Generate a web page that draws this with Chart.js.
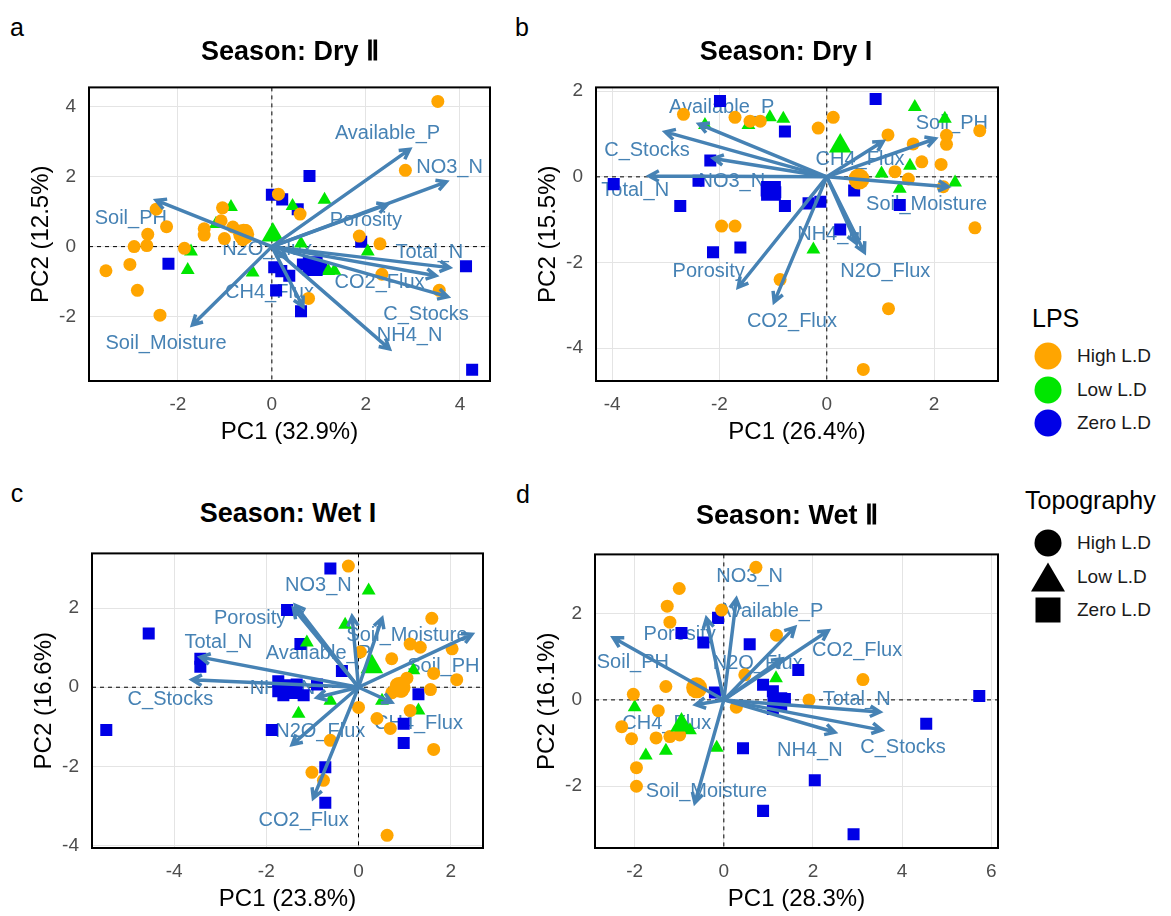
<!DOCTYPE html>
<html>
<head>
<meta charset="utf-8">
<title>PCA biplots by season</title>
<script src="https://cdn.jsdelivr.net/npm/chart.js@4.4.1/dist/chart.umd.min.js"></script>
<style>
  body { margin: 0; background: #fff; font-family: "Liberation Sans", Arial, sans-serif; }
  #wrap { position: relative; width: 1171px; height: 916px; overflow: hidden; }
  #wrap canvas { position: absolute; }
  .title { position: absolute; transform: translate(-50%, -50%); font-weight: bold; font-size: 27px; white-space: nowrap; }
  .tag { position: absolute; transform: translate(-50%, -50%); font-size: 25px; }
  .leg-title { position: absolute; transform: translateY(-50%); font-size: 25px; }
  .leg-text { position: absolute; transform: translateY(-50%); font-size: 19px; color: #1a1a1a; }
  .sw { position: absolute; transform: translate(-50%, -50%); }
</style>
</head>
<body>
<div id="wrap"></div>
<script>
// variables (arrows), same order in every panel
const varNames = ['Available_P', 'NO3_N', 'Porosity', 'Total_N', 'CO2_Flux', 'C_Stocks', 'NH4_N', 'CH4_Flux', 'N2O_Flux', 'Soil_PH', 'Soil_Moisture'];
const lpsLevels = ['High L.D', 'Low L.D', 'Zero L.D'];
const topoLevels = ['High L.D', 'Low L.D', 'Zero L.D'];

// ---- a: Dry II ----
const aXTicks = [-2, 0, 2, 4];
const aYTicks = [-2, 0, 2, 4];
const aXRange = [-3.89, 4.64];
const aYRange = [-3.84, 4.55];
const aHighX = [-2.46, -2.24, -2.64, -2.93, -2.66, -3.02, -3.53, -2.86, -2.38, -1.86, -1.05, -1.44, -1.44, -1.01, -0.83, -0.55, -0.62, -1.08, 0.14, 3.53, 2.84, 0.6, 1.86, 2.3, 2.34, 3.56, 0.78];
const aHighY = [1.07, 0.57, 0.35, 0, 0.03, -0.51, -0.69, -1.25, -1.96, -0.05, 1.11, 0.51, 0.33, 0.23, 0.56, 0.46, 0.2, 0.74, 1.5, 4.15, 2.18, 0.93, 0.3, 0.08, -0.79, -1.25, -1.48];
const aLowX = [-0.87, -1.72, -1.79, -0.41, -1.19, 1.12, 0.44, 0.62, 2.04, 1.33, 1.2];
const aLowY = [1.13, -0.14, -0.67, -0.74, 0.65, 1.34, 1.16, 0.09, -0.14, -0.69, -0.7];
const aZeroX = [-2.2, 0, 0.22, 0.05, 0.09, 0.8, 0.55, 1.9, 4.13, 0.66, 1.05, 0.37, 0.62, 4.26, 0.2];
const aZeroY = [-0.49, 1.48, 1.35, -0.59, -1.25, 2.02, 1.07, 0.14, -0.56, -0.51, -0.6, -0.83, -1.85, -3.52, -0.7];
const aMeanX = [-0.6, 0.02, 0.87];
const aMeanY = [0.35, 0.33, -0.56];
const aArrowX = [2.93, 3.71, 2.45, 3.78, 3.49, 3.74, 2.5, 0.66, 0.3, -2.46, -1.69];
const aArrowY = [2.78, 1.85, 1.2, -0.6, -0.83, -1.43, -2.92, -1.71, -0.3, 1.32, -2.24];
const aLabelX = [2.46, 3.78, 2.0, 3.35, 2.29, 3.28, 2.93, -0.05, -0.1, -3.0, -2.25];
const aLabelY = [3.22, 2.27, 0.74, -0.18, -1.02, -1.94, -2.54, -1.31, -0.09, 0.79, -2.78];

// ---- b: Dry I ----
const bXTicks = [-4, -2, 0, 2];
const bYTicks = [-4, -2, 0, 2];
const bXRange = [-4.3, 3.19];
const bYRange = [-4.77, 2.09];
const bHighX = [-2.67, -1.71, -1.43, -1.24, -1.96, -1.71, -0.87, 0.12, -0.16, 1.14, 1.61, 2.23, 2.23, 2.85, 1.77, 2.13, 1.27, 1.52, 2.76, 1.15, 0.68, 2.17];
const bHighY = [1.46, 1.39, 1.3, 1.3, -1.15, -1.15, -2.4, 1.39, 1.14, 0.98, 0.77, 0.97, 0.76, 1.08, 0.35, 0.29, 0.12, -0.05, -1.19, -3.08, -4.5, -0.23];
const bLowX = [-2.27, -1.46, -1.06, -0.81, 1.64, 2.2, 1.55, 1.02, 1.36, 2.39, -0.25];
const bLowY = [1.21, 1.21, 1.39, 1.36, 1.63, 1.36, 0.26, 0.08, -0.28, -0.13, -1.7];
const bZeroX = [-1.99, -0.78, -2.17, -3.97, -2.39, -2.73, -1.12, -0.96, -0.78, -2.12, -1.61, 0.91, 0.51, 1.36, 0.25, -0.34, -0.12];
const bZeroY = [1.77, 1.06, 0.38, -0.17, -0.09, -0.68, -0.32, -0.36, -0.68, -1.76, -1.65, 1.82, -0.32, -0.66, -1.23, -0.62, -0.58];
const bMeanX = [0.6, 0.25, -1.04];
const bMeanY = [-0.05, 0.72, -0.33];
const bArrowX = [-2.38, -2.11, -1.65, -3.31, -0.98, -3.01, 0.55, 1.05, 0.7, 2.02, 2.26];
const bArrowY = [1.23, 0.43, -2.58, 0.02, -2.92, 1.05, -1.55, 0.83, -1.76, 0.89, -0.23];
const bLabelX = [-1.96, -1.77, -2.2, -3.57, -0.65, -3.35, 0.06, 0.62, 1.09, 2.33, 1.86];
const bLabelY = [1.61, -0.1, -2.2, -0.33, -3.39, 0.62, -1.35, 0.4, -2.22, 1.25, -0.64];

// ---- c: Wet I ----
const cXTicks = [-4, -2, 0, 2];
const cYTicks = [-4, -2, 0, 2];
const cXRange = [-5.78, 2.7];
const cYRange = [-4.06, 3.38];
const cHighX = [-0.22, 1.59, 1.12, 1.34, 2.03, 0.72, 1.63, 2.13, 1.05, 0.83, 0.94, 0.72, 1.56, 0, 1.12, 0.4, 0.69, 1.63, -0.61, -1.01, -0.76, 0.62, 0.04];
const cHighY = [3.06, 1.74, 1.09, 1.01, 0.97, 0.72, 0.35, 0.19, 0.23, 0.07, -0.1, -0.14, -0.06, -0.51, -0.59, -0.79, -1.04, -1.57, -1.34, -2.15, -2.35, -3.74, 0.89];
const cLowX = [0.22, -0.29, -1.12, 0.51, -0.61, 1.3, -1.3, 1.19];
const cLowY = [2.44, 1.58, 1.13, -0.34, -0.34, -0.59, -0.67, 0.43];
const cZeroX = [-4.55, -3.43, -3.43, -5.47, -1.55, -1.74, -1.74, -1.88, -0.61, -1.26, -0.36, -1.34, -0.9, -1.63, -1.19, 1.3, 0.98, 0.98, -0.72, -0.72];
const cZeroY = [1.36, 0.72, 0.52, -1.08, 1.95, 0.15, -0.1, -1.08, 3.0, 1.09, 0.41, 0.07, 0.07, -0.2, -0.2, -0.18, -0.92, -1.41, -2.02, -2.92];
const cMeanX = [0.9, 0.29, -1.48];
const cMeanY = [0.0, 0.52, -0.05];
const cArrowX = [-0.14, -1.37, -1.41, -3.43, -0.98, -3.61, -0.9, 0.72, -1.44, 2.46, 0.51];
const cArrowY = [1.79, 2.07, 1.99, 0.76, -2.8, 0.19, -0.26, -0.38, -1.45, 1.34, 1.74];
const cLabelX = [-0.87, -0.87, -2.35, -3.04, -1.19, -4.08, -1.65, 1.3, -0.83, 1.84, 1.05];
const cLabelY = [0.85, 2.56, 1.74, 1.13, -3.37, -0.3, -0.02, -0.92, -1.12, 0.52, 1.3];

// ---- d: Wet II ----
const dXTicks = [-2, 0, 2, 4, 6];
const dYTicks = [-2, 0, 2];
const dXRange = [-2.89, 6.15];
const dYRange = [-3.43, 3.37];
const dHighX = [0.72, -1.0, -1.27, -1.21, -1.3, -2.03, -1.47, -2.29, -2.07, -1.52, -1.21, -0.99, -1.96, -1.96, 0.28, -0.05, 1.18, 0.47, 3.12, 1.91];
const dHighY = [3.07, 2.58, 2.17, 1.8, 0.31, 0.13, -0.25, -0.62, -0.9, -0.88, -0.85, -0.81, -1.57, -2.0, -0.17, 2.08, 1.5, 0.58, 0.47, 0];
const dLowX = [-2.0, -1.75, -1.3, -0.76, -0.16, 1.17];
const dLowY = [-0.17, -1.29, -1.18, -0.7, -1.11, 0.5];
const dZeroX = [-0.95, -0.46, -0.13, 0.58, -0.2, 0.43, 0.88, 0.88, 1.1, 1.67, 1.37, 1.1, 5.73, 4.54, 2.04, 2.91];
const dZeroY = [1.55, 1.33, 1.9, 1.29, 0.17, -1.12, -2.57, 0.35, 0.2, 0.69, 0.02, -0.21, 0.09, -0.55, -1.86, -3.11];
const dMeanX = [-0.61, -0.95, 1.2];
const dMeanY = [0.28, -0.58, -0.05];
const dArrowX = [1.59, 0.28, -0.39, 3.5, 2.34, 3.54, 2.49, -0.63, 1.3, -2.48, -0.65];
const dArrowY = [1.68, 2.34, 1.89, -0.28, 1.6, -0.7, -0.75, -0.11, 0.95, 1.44, -2.38];
const dLabelX = [1.05, 0.58, -0.99, 2.98, 2.99, 4.02, 1.93, -1.28, 0.76, -2.04, -0.39];
const dLabelY = [2.04, 2.86, 1.51, 0.02, 1.14, -1.11, -1.18, -0.55, 0.85, 0.87, -2.12];

// styles
const FONT = '"Liberation Sans", Arial, sans-serif';
const groupColors = ['#FFA500', '#00E600', '#0000E6'];
const groupShapes = ['circle', 'triangle', 'rect'];
const pointSizes = [6.5, 8, 8.5];
const meanSizes = [10.5, 13, 14];
const arrowColor = '#4682B4';
const Y_W = 86, X_H = 70, PAD = 16;

Chart.defaults.font.family = FONT;

const panels = [
  { tag: 'a', title: 'Season: Dry Ⅱ', xTitle: 'PC1 (32.9%)', yTitle: 'PC2 (12.5%)',
    box: { L: 89, T: 79, R: 490, B: 381 }, titlePos: [290, 51], tagPos: [17, 27],
    xRange: aXRange, yRange: aYRange, xTicks: aXTicks, yTicks: aYTicks,
    groups: [[aHighX, aHighY], [aLowX, aLowY], [aZeroX, aZeroY]], meanX: aMeanX, meanY: aMeanY,
    arrowX: aArrowX, arrowY: aArrowY, labelX: aLabelX, labelY: aLabelY },
  { tag: 'b', title: 'Season: Dry I', xTitle: 'PC1 (26.4%)', yTitle: 'PC2 (15.5%)',
    box: { L: 596, T: 79, R: 998, B: 381 }, titlePos: [786, 51], tagPos: [522, 27],
    xRange: bXRange, yRange: bYRange, xTicks: bXTicks, yTicks: bYTicks,
    groups: [[bHighX, bHighY], [bLowX, bLowY], [bZeroX, bZeroY]], meanX: bMeanX, meanY: bMeanY,
    arrowX: bArrowX, arrowY: bArrowY, labelX: bLabelX, labelY: bLabelY },
  { tag: 'c', title: 'Season: Wet I', xTitle: 'PC1 (23.8%)', yTitle: 'PC2 (16.6%)',
    box: { L: 92, T: 545, R: 483, B: 848 }, titlePos: [288, 513], tagPos: [17, 493],
    xRange: cXRange, yRange: cYRange, xTicks: cXTicks, yTicks: cYTicks,
    groups: [[cHighX, cHighY], [cLowX, cLowY], [cZeroX, cZeroY]], meanX: cMeanX, meanY: cMeanY,
    arrowX: cArrowX, arrowY: cArrowY, labelX: cLabelX, labelY: cLabelY },
  { tag: 'd', title: 'Season: Wet Ⅱ', xTitle: 'PC1 (28.3%)', yTitle: 'PC2 (16.1%)',
    box: { L: 595, T: 546, R: 998, B: 848 }, titlePos: [787, 515], tagPos: [523, 494],
    xRange: dXRange, yRange: dYRange, xTicks: dXTicks, yTicks: dYTicks,
    groups: [[dHighX, dHighY], [dLowX, dLowY], [dZeroX, dZeroY]], meanX: dMeanX, meanY: dMeanY,
    arrowX: dArrowX, arrowY: dArrowY, labelX: dLabelX, labelY: dLabelY }
];

const wrap = document.getElementById('wrap');

function intTicks(min, max) {
  const out = [];
  for (let v = Math.ceil(min); v <= Math.floor(max); v++) out.push({ value: v });
  return out;
}

function gridColor(c) {
  if (!c.tick) return '#ebebeb';
  return c.tick.value % 2 === 0 ? '#e4e4e4' : '#f1f1f1';
}

// dashed zero lines, variable labels, arrows and the panel frame
function biplotPlugin(p) {
  return {
    id: 'biplot' + p.tag,
    beforeDatasetsDraw(chart) {
      const {ctx, chartArea: a, scales: {x, y}} = chart;
      const x0 = x.getPixelForValue(0), y0 = y.getPixelForValue(0);
      ctx.save();
      ctx.strokeStyle = '#000';
      ctx.lineWidth = 1;
      ctx.setLineDash([4, 4]);
      ctx.beginPath();
      ctx.moveTo(a.left, y0); ctx.lineTo(a.right, y0);
      ctx.moveTo(x0, a.top); ctx.lineTo(x0, a.bottom);
      ctx.stroke();
      ctx.setLineDash([]);
      ctx.fillStyle = arrowColor;
      ctx.font = '20px ' + FONT;
      ctx.textAlign = 'center';
      ctx.textBaseline = 'middle';
      varNames.forEach((name, i) => {
        ctx.fillText(name, x.getPixelForValue(p.labelX[i]), y.getPixelForValue(p.labelY[i]));
      });
      ctx.restore();
    },
    afterDatasetsDraw(chart) {
      const {ctx, chartArea: a, scales: {x, y}} = chart;
      const x0 = x.getPixelForValue(0), y0 = y.getPixelForValue(0);
      ctx.save();
      ctx.strokeStyle = arrowColor;
      ctx.lineWidth = 3.5;
      ctx.lineJoin = 'miter';
      varNames.forEach((name, i) => {
        const x1 = x.getPixelForValue(p.arrowX[i]);
        const y1 = y.getPixelForValue(p.arrowY[i]);
        const ang = Math.atan2(y1 - y0, x1 - x0);
        const h = 11;
        ctx.beginPath();
        ctx.moveTo(x0, y0);
        ctx.lineTo(x1, y1);
        ctx.moveTo(x1 - h * Math.cos(ang - 0.5), y1 - h * Math.sin(ang - 0.5));
        ctx.lineTo(x1, y1);
        ctx.lineTo(x1 - h * Math.cos(ang + 0.5), y1 - h * Math.sin(ang + 0.5));
        ctx.stroke();
      });
      ctx.strokeStyle = '#000';
      ctx.lineWidth = 2;
      ctx.strokeRect(a.left, a.top, a.right - a.left, a.bottom - a.top);
      ctx.restore();
    }
  };
}

function makePanel(p) {
  const w = p.box.R - p.box.L + Y_W + PAD;
  const h = p.box.B - p.box.T + PAD + X_H;
  const canvas = document.createElement('canvas');
  canvas.width = w; canvas.height = h;
  canvas.style.width = w + 'px'; canvas.style.height = h + 'px';
  canvas.style.left = (p.box.L - Y_W) + 'px';
  canvas.style.top = (p.box.T - PAD) + 'px';
  wrap.appendChild(canvas);

  const datasets = [];
  // means first so they sit on top (chart.js draws dataset 0 last)
  lpsLevels.forEach((lev, i) => {
    datasets.push({
      label: lev + ' mean',
      data: [{ x: p.meanX[i], y: p.meanY[i] }],
      pointStyle: groupShapes[i], pointRadius: meanSizes[i],
      backgroundColor: groupColors[i], borderColor: groupColors[i], borderWidth: 0
    });
  });
  p.groups.forEach((g, i) => {
    datasets.push({
      label: lpsLevels[i],
      data: g[0].map((v, k) => ({ x: v, y: g[1][k] })),
      pointStyle: groupShapes[i], pointRadius: pointSizes[i],
      backgroundColor: groupColors[i], borderColor: groupColors[i], borderWidth: 0
    });
  });

  new Chart(canvas, {
    type: 'scatter',
    data: { datasets: datasets },
    options: {
      responsive: false,
      animation: false,
      devicePixelRatio: 1,
      events: [],
      layout: { padding: { top: PAD, right: PAD, left: 0, bottom: 0 } },
      plugins: { legend: { display: false }, tooltip: { enabled: false } },
      scales: {
        x: {
          type: 'linear', position: 'bottom', min: p.xRange[0], max: p.xRange[1],
          afterBuildTicks: ax => { ax.ticks = intTicks(p.xRange[0], p.xRange[1]); },
          afterFit: ax => { ax.height = X_H; },
          ticks: { autoSkip: false, maxRotation: 0, padding: 12, color: '#4d4d4d', font: { size: 19 },
                   callback: v => p.xTicks.includes(v) ? String(v) : null },
          grid: { drawTicks: false, color: gridColor, lineWidth: 1 },
          border: { display: false },
          title: { display: true, text: p.xTitle, color: '#000', font: { size: 24 }, padding: { top: 0, bottom: 4 } }
        },
        y: {
          type: 'linear', position: 'left', min: p.yRange[0], max: p.yRange[1],
          afterBuildTicks: ax => { ax.ticks = intTicks(p.yRange[0], p.yRange[1]); },
          afterFit: ax => { ax.width = Y_W; },
          ticks: { autoSkip: false, padding: 13, color: '#4d4d4d', font: { size: 19 },
                   callback: v => p.yTicks.includes(v) ? String(v) : null },
          grid: { drawTicks: false, color: gridColor, lineWidth: 1 },
          border: { display: false },
          title: { display: true, text: p.yTitle, color: '#000', font: { size: 24 }, padding: { top: 24, bottom: 0 } }
        }
      }
    },
    plugins: [biplotPlugin(p)]
  });

  const t = document.createElement('div');
  t.className = 'title';
  t.textContent = p.title;
  t.style.left = p.titlePos[0] + 'px'; t.style.top = p.titlePos[1] + 'px';
  wrap.appendChild(t);
  const g = document.createElement('div');
  g.className = 'tag';
  g.textContent = p.tag;
  g.style.left = p.tagPos[0] + 'px'; g.style.top = p.tagPos[1] + 'px';
  wrap.appendChild(g);
}

panels.forEach(makePanel);

// legends
function addDiv(cls, text, left, top, css) {
  const d = document.createElement('div');
  d.className = cls;
  if (text) d.textContent = text;
  d.style.left = left + 'px'; d.style.top = top + 'px';
  if (css) d.style.cssText += css;
  wrap.appendChild(d);
}

addDiv('leg-title', 'LPS', 1032, 318);
lpsLevels.forEach((lev, i) => {
  const yy = 356 + i * 33.5;
  addDiv('sw', '', 1048, yy, 'width:27px;height:27px;border-radius:50%;background:' + groupColors[i] + ';');
  addDiv('leg-text', lev, 1077, yy);
});

addDiv('leg-title', 'Topography', 1025, 500);
const topoCss = [
  'width:27px;height:27px;border-radius:50%;background:#000;',
  'width:0;height:0;border-left:17px solid transparent;border-right:17px solid transparent;border-bottom:29px solid #000;',
  'width:25px;height:25px;background:#000;'
];
topoLevels.forEach((lev, i) => {
  const yy = 543 + i * 33.5;
  addDiv('sw', '', 1048, yy, topoCss[i]);
  addDiv('leg-text', lev, 1077, yy);
});
</script>
</body>
</html>
